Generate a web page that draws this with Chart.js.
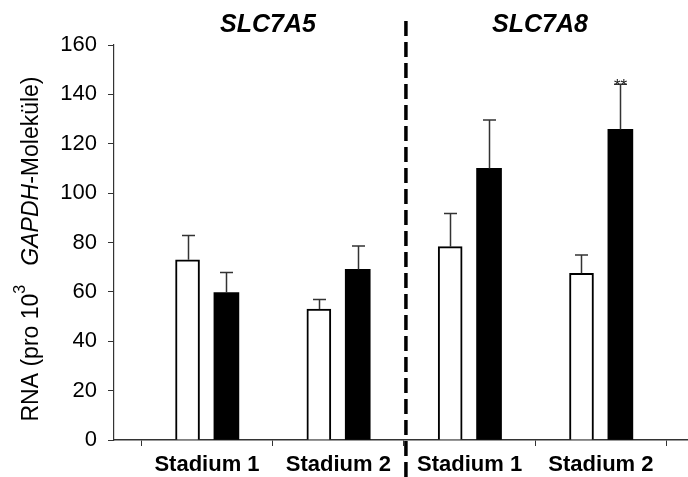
<!DOCTYPE html>
<html>
<head>
<meta charset="utf-8">
<script src="https://cdn.jsdelivr.net/npm/chart.js@4.4.1/dist/chart.umd.min.js"></script>
<style>
  body { margin: 0; background: #fff; }
  #wrap { width: 688px; height: 477px; }
</style>
</head>
<body>
<div id="wrap"><canvas id="grafico"></canvas></div>
<script>
// Daten
const kategorien = ["Stadium 1", "Stadium 2", "Stadium 1", "Stadium 2"];
const gruppen = ["SLC7A5", "SLC7A8"];
const werteWeiss = [73, 53, 78.3, 67.5];
const fehlerWeiss = [9.8, 3.9, 13.4, 7.4];
const werteSchwarz = [59.7, 69.1, 110, 125.8];
const fehlerSchwarz = [8.1, 9.5, 19.6, 18.3];
const signifikanz = ["", "", "", "**"];
const yTicks = [0, 20, 40, 60, 80, 100, 120, 140, 160];

const FONT = "'Liberation Sans', Arial, sans-serif";
const GRAU = "#333";

const pluginFehler = {
  id: "fehlerbalken",
  afterDatasetsDraw(chart) {
    const ctx = chart.ctx;
    const yScale = chart.scales.y;
    const reihen = [
      [werteWeiss, fehlerWeiss],
      [werteSchwarz, fehlerSchwarz],
    ];
    ctx.save();
    reihen.forEach(([werte, fehler], d) => {
      chart.getDatasetMeta(d).data.forEach((bar, i) => {
        const yOben = yScale.getPixelForValue(werte[i] + fehler[i]);
        const x = Math.round(bar.x) + 0.5;
        ctx.strokeStyle = "#333";
        ctx.lineWidth = 1.5;
        ctx.beginPath();
        ctx.moveTo(x, bar.y);
        ctx.lineTo(x, yOben);
        ctx.moveTo(x - 6.5, yOben);
        ctx.lineTo(x + 6.5, yOben);
        ctx.stroke();
        if (d === 1 && signifikanz[i]) {
          ctx.fillStyle = "#222";
          ctx.font = "17px " + FONT;
          ctx.textAlign = "center";
          ctx.textBaseline = "alphabetic";
          ctx.fillText(signifikanz[i], x, yOben + 7);
        }
      });
    });
    ctx.restore();
  },
  afterDraw(chart) {
    const ctx = chart.ctx;
    const xScale = chart.scales.x;

    // Titel der Gruppen
    ctx.save();
    ctx.fillStyle = "#000";
    ctx.font = "italic bold 25px " + FONT;
    ctx.textAlign = "center";
    ctx.textBaseline = "middle";
    ctx.fillText(gruppen[0], xScale.getPixelForValue(0.465), 25);
    ctx.fillText(gruppen[1], xScale.getPixelForValue(2.536), 25);

    // gestrichelte Trennlinie
    const xT = xScale.getPixelForValue(1.515);
    ctx.strokeStyle = "#000";
    ctx.lineWidth = 3.5;
    ctx.setLineDash([15, 6]);
    ctx.beginPath();
    ctx.moveTo(xT, 21);
    ctx.lineTo(xT, chart.height);
    ctx.stroke();
    ctx.setLineDash([]);

    // Achsentitel (gedreht, gemischte Schrift)
    const teile = [
      { t: "RNA (pro 10", f: "23px " + FONT, dy: 0 },
      { t: "3", f: "16px " + FONT, dy: -11 },
      { t: "   ", f: "23px " + FONT, dy: 0 },
      { t: "GAPDH", f: "italic 23px " + FONT, dy: 0 },
      { t: "-Moleküle)", f: "23px " + FONT, dy: 0 },
    ];
    let gesamt = 0;
    teile.forEach((p) => {
      ctx.font = p.f;
      p.w = ctx.measureText(p.t).width;
      gesamt += p.w;
    });
    ctx.translate(32, 249);
    ctx.rotate(-Math.PI / 2);
    ctx.textAlign = "left";
    ctx.textBaseline = "middle";
    let pos = -gesamt / 2;
    teile.forEach((p) => {
      ctx.font = p.f;
      ctx.fillText(p.t, pos, p.dy);
      pos += p.w;
    });
    ctx.restore();
  },
};

new Chart(document.getElementById("grafico"), {
  type: "bar",
  data: {
    datasets: [
      {
        data: werteWeiss.map((v, i) => ({ x: i - 0.148, y: v })),
        backgroundColor: "#fff",
        borderColor: "#000",
        borderWidth: 2,
        barThickness: 24,
        grouped: false,
      },
      {
        data: werteSchwarz.map((v, i) => ({ x: i + 0.148, y: v })),
        backgroundColor: "#000",
        borderColor: "#000",
        borderWidth: 0,
        barThickness: 25,
        grouped: false,
      },
    ],
  },
  options: {
    responsive: true,
    maintainAspectRatio: false,
    animation: false,
    layout: { padding: { top: 45, right: 0, left: 0, bottom: 0 } },
    plugins: { legend: { display: false }, tooltip: { enabled: false } },
    scales: {
      x: {
        type: "linear",
        min: -0.708,
        max: 3.663,
        offset: false,
        afterBuildTicks: (s) => {
          s.ticks = kategorien.map((c, i) => ({ value: i }));
        },
        afterFit: (s) => {
          s.height = 37;
        },
        ticks: {
          callback: (v) => kategorien[v],
          color: "#000",
          font: { family: FONT, size: 22, weight: "bold" },
          padding: 6,
          maxRotation: 0,
          autoSkip: false,
        },
        grid: { drawOnChartArea: false, tickLength: 6, color: GRAU },
        border: { color: GRAU, width: 1.5 },
      },
      y: {
        min: 0,
        max: 160,
        afterBuildTicks: (s) => {
          s.ticks = yTicks.map((v) => ({ value: v }));
        },
        afterFit: (s) => {
          s.width = 114;
        },
        ticks: {
          color: "#000",
          font: { family: FONT, size: 22 },
          padding: 11,
        },
        grid: { drawOnChartArea: false, tickLength: 6, color: GRAU },
        border: { color: GRAU, width: 1.2 },
      },
    },
  },
  plugins: [pluginFehler],
});
</script>
</body>
</html>
